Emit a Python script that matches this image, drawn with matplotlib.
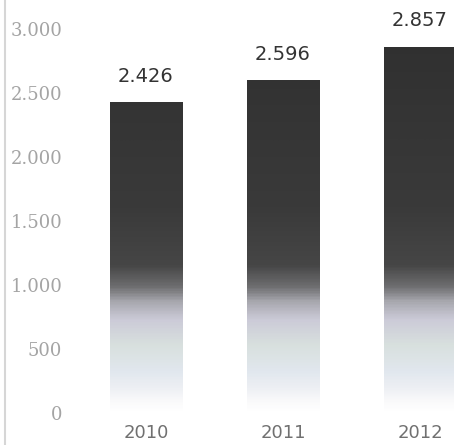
import matplotlib
matplotlib.use("Agg")
import matplotlib.pyplot as plt
from matplotlib.colors import LinearSegmentedColormap
from matplotlib.lines import Line2D
import numpy as np

# data
years = ["2010", "2011", "2012"]
values = [2426, 2596, 2857]
value_labels = ["2.426", "2.596", "2.857"]
ytick_values = [0, 500, 1000, 1500, 2000, 2500, 3000]
ytick_labels = ["0", "500", "1.000", "1.500", "2.000", "2.500", "3.000"]

W, H = 454, 445
fig = plt.figure(figsize=(W / 100, H / 100), dpi=100)
ax = fig.add_axes([4 / W, 32 / H, 450 / W, 410 / H])

x = np.arange(len(years))
bar_w = 0.53
bars = ax.bar(x, values, width=bar_w, color="none", edgecolor="none")

# vertical gradient: pale pastel near the base, near-black higher up
ymax = 3200
stops = [
    (0 / ymax, "#ffffff"),
    (80 / ymax, "#fafafb"),
    (180 / ymax, "#eef0f4"),
    (320 / ymax, "#e1e7ee"),
    (520 / ymax, "#d8e0de"),
    (720 / ymax, "#cccbd8"),
    (860 / ymax, "#a9a9b0"),
    (980 / ymax, "#6e6e70"),
    (1150 / ymax, "#464646"),
    (1600 / ymax, "#3a3a3a"),
    (1.0, "#2e2e2e"),
]
cmap = LinearSegmentedColormap.from_list("fade", stops)
grad = np.linspace(0, 1, 400).reshape(-1, 1)

for b in bars:
    x0 = b.get_x()
    im = ax.imshow(grad, cmap=cmap, origin="lower", aspect="auto",
                   extent=[x0, x0 + b.get_width(), 0, ymax],
                   interpolation="bilinear", zorder=2)
    im.set_clip_path(b)

for xi, v, lab in zip(x, values, value_labels):
    ax.annotate(lab, (xi, v), xytext=(0, 12), textcoords="offset points",
                ha="center", va="bottom", fontsize=14, color="#333333",
                family="DejaVu Sans")

ax.set_xlim(-1.036, 2.248)
ax.set_ylim(0, ymax)

ax.set_xticks(x)
ax.set_xticklabels(years, fontsize=13, color="#707070", family="DejaVu Sans")
ax.set_yticks(ytick_values)
ax.set_yticklabels(ytick_labels, fontsize=13, color="#a4a4a4",
                   family="DejaVu Serif")
ax.tick_params(axis="x", length=0, pad=8)
ax.tick_params(axis="y", length=0, pad=-42)
for lbl in ax.get_yticklabels():
    lbl.set_horizontalalignment("right")

for s in ["top", "right", "bottom", "left"]:
    ax.spines[s].set_visible(False)

# thin frame line running the full height on the left
fig.add_artist(Line2D([4.5 / W, 4.5 / W], [0, 1], color="#d6d6d6",
                      linewidth=1.5, transform=fig.transFigure))

fig.savefig("out.png", dpi=100)
